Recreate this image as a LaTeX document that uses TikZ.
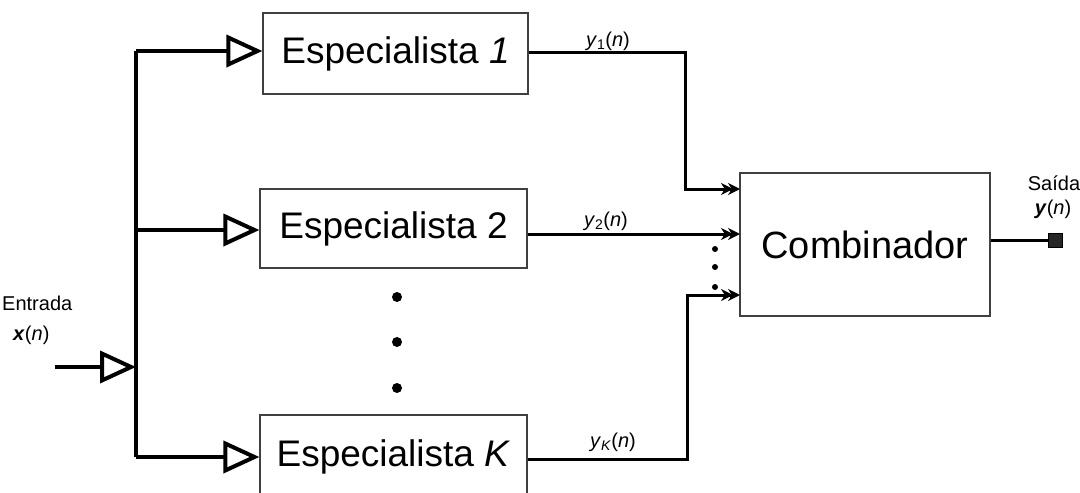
\documentclass[tikz,border=0pt]{standalone}
\usepackage{fontspec}
\setmainfont{Liberation Sans}
\usetikzlibrary{arrows.meta}
\begin{document}
\begin{tikzpicture}[x=1pt,y=-1pt,
  block/.style={draw=black!75,line width=1.2pt,minimum width=267pt,inner sep=0pt},
  bus/.style={line width=4pt},
  feed/.style={line width=4pt,-{Triangle[open,length=36pt,width=32pt,line width=4pt]}},
  sig/.style={line width=3pt,line join=miter,-{Stealth[length=12pt,width=12pt,sep=-5pt]Stealth[length=12pt,width=12pt]}},
  lbl/.style={font=\fontsize{20}{22}\selectfont,inner sep=0pt},
  bigdot/.style={circle,fill=black,inner sep=0pt,minimum size=10pt},
  smalldot/.style={circle,fill=black,inner sep=0pt,minimum size=6pt}]
\useasboundingbox (0,0) rectangle (1080,493);

% expert blocks
\node[block,minimum width=265pt,minimum height=81pt,font=\fontsize{37}{40}\selectfont] (e1) at (395.5,53.5) {Especialista \textit{1}};
\node[block,minimum height=79pt,font=\fontsize{37}{40}\selectfont] (e2) at (393.5,228.5) {Especialista 2};
\node[block,minimum height=84pt,font=\fontsize{37}{40}\selectfont] (eK) at (393.5,457) {Especialista \textit{K}};
% combiner
\node[block,minimum width=250pt,minimum height=143pt,font=\fontsize{38}{40}\selectfont] (comb) at (865,244.5) {Combinador};

% input distribution bus
\coordinate (in) at (55,367);
\coordinate (bIn) at (136,367);
\coordinate (bTop) at (136,51);
\coordinate (bBot) at (136,457);
\draw[bus] (bTop) -- (bBot);
\draw[feed] (in) -- (bIn);
\draw[feed] (bTop) -- (e1.west |- bTop);
\draw[feed] (136,230) coordinate (b2) -- (e2.west |- b2);
\draw[feed] (bBot) -- (eK.west);

% elided experts
\node[bigdot] (d1) at (397,297) {};
\node[bigdot] (d2) at (397,342) {};
\node[bigdot] (d3) at (397,388) {};

% expert outputs into the combiner
\coordinate (c1) at (740,189);
\coordinate (c2) at (740,234);
\coordinate (cK) at (740,295);
\draw[sig] (e1.east |- 0,52) -- (685,52) |- (c1);
\draw[sig] (e2.east |- c2) -- (c2);
\draw[sig] (eK.east |- 0,459) -- (687,459) |- (cK);
\node[smalldot] (s1) at (715,249) {};
\node[smalldot] (s2) at (715,267) {};
\node[smalldot] (s3) at (715,287) {};

% output terminal
\node[draw=black,fill=black!85,minimum size=14pt,inner sep=0pt] (out) at (1055,240) {};
\draw[line width=3pt] (comb.east |- out) -- (out);

% labels
\node[lbl,anchor=base west] (tIn) at (2,310) {Entrada};
\node[lbl,anchor=base west] (tX) at (13,340) {\textbf{\textit{x}}(\textit{n})};
\node[lbl,anchor=base] (t1) at (608,46) {\textit{y}\textsubscript{1}(\textit{n})};
\node[lbl,anchor=base] (t2) at (606,226) {\textit{y}\textsubscript{2}(\textit{n})};
\node[lbl,anchor=base] (tK) at (613,447) {\textit{y}\textsubscript{\textit{K}}(\textit{n})};
\node[lbl,anchor=base] (tS) at (1054,190) {Saída};
\node[lbl,anchor=base] (tY) at (1053,214) {\textbf{\textit{y}}(\textit{n})};
\end{tikzpicture}
\end{document}
